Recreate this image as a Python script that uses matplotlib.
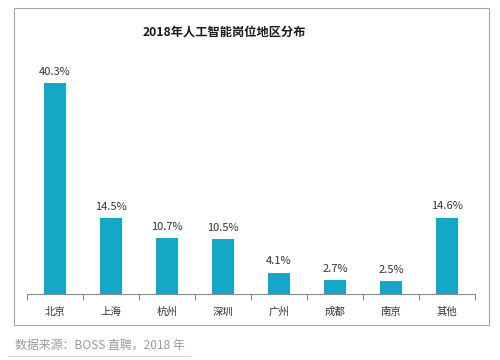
import matplotlib
matplotlib.use("Agg")
import matplotlib.pyplot as plt
from matplotlib.patches import Rectangle
from matplotlib.lines import Line2D

plt.rcParams['font.family'] = ['Noto Sans CJK SC', 'DejaVu Sans']

categories = ['北京', '上海', '杭州', '深圳', '广州', '成都', '南京', '其他']
values = [40.3, 14.5, 10.7, 10.5, 4.1, 2.7, 2.5, 14.6]
labels = ['40.3%', '14.5%', '10.7%', '10.5%', '4.1%', '2.7%', '2.5%', '14.6%']

fig = plt.figure(figsize=(5, 3.6), dpi=100)
W, H = 500, 360
ax = fig.add_axes([27 / W, 1 - 294 / H, 448 / W, 234 / H])

x = list(range(len(categories)))
ax.bar(x, values, width=0.4, color='#12A8C6')
for xi, v, lab in zip(x, values, labels):
    ax.text(xi, v + 1.2, lab, ha='center', va='bottom', fontsize=8, color='#333333')

ax.set_xlim(-0.5, len(categories) - 0.5)
ax.set_ylim(0, 44.66)
ax.set_yticks([])
for s in ['top', 'right', 'left']:
    ax.spines[s].set_visible(False)
ax.spines['bottom'].set_color('#8c8c8c')
ax.spines['bottom'].set_linewidth(0.8)
ax.set_xticks([i - 0.5 for i in range(len(categories) + 1)], minor=False)
ax.set_xticklabels([])
ax.tick_params(axis='x', which='major', length=4, color='#8c8c8c', width=0.8, direction='out')
ax.set_xticks(x, minor=True)
ax.set_xticklabels(categories, minor=True, fontsize=7.5, color='#333333')
ax.tick_params(axis='x', which='minor', length=0, pad=9)

fig.text(224 / W, 1 - 33 / H, '2018年人工智能岗位地区分布', ha='center', va='center',
         fontsize=8.8, fontweight='heavy', color='#1a1a1a')

fig.patches.append(Rectangle((14 / W, 1 - 325 / H), 475 / W, 317 / H, transform=fig.transFigure,
                             fill=False, edgecolor='#a6a6a6', linewidth=0.8))

fig.text(15 / W, 1 - 345 / H, '数据来源：BOSS 直聘，2018 年', ha='left', va='center',
         fontsize=8.6, color='#9a9a9a', style='italic')
fig.lines.append(Line2D([8 / W, 190 / W], [1 - 356 / H, 1 - 356 / H], transform=fig.transFigure,
                        color='#cccccc', linewidth=0.6))

fig.savefig('out.png', dpi=100, facecolor='white')
